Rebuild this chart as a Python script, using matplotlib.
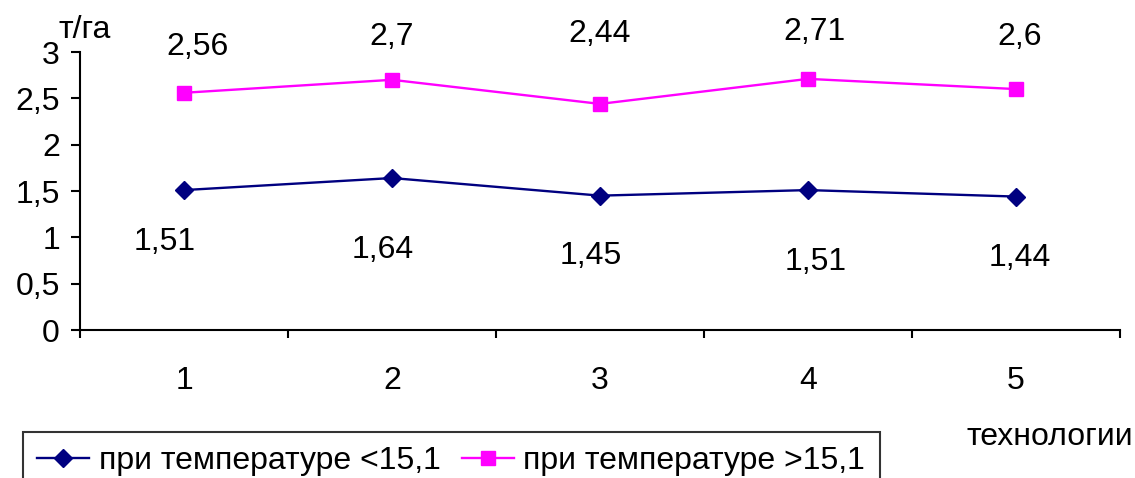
import numpy as np
import matplotlib.pyplot as plt

plt.rcParams['font.family'] = ['Liberation Sans', 'DejaVu Sans']

# урожайность по технологиям, т/га
tech = [1, 2, 3, 4, 5]
low_temp = [1.51, 1.64, 1.45, 1.51, 1.44]
high_temp = [2.56, 2.70, 2.44, 2.71, 2.60]
low_name = 'при температуре <15,1'
high_name = 'при температуре >15,1'

# сдвиги подписей значений (пиксели)
low_off = [(-19, -52), (-9, -72), (-9, -60), (8, -72), (4, -61)]
high_off = [(13, 46), (0, 43), (0, 70), (6, 47), (4, 52)]

fs = 23
fig = plt.figure(figsize=(11.35, 4.78), dpi=100)
ax = fig.add_axes([0.0705, 0.3096, 0.9163, 0.5816])

ax.plot(tech, low_temp, color='#000080', lw=1.7, marker='D', ms=9, label=low_name)
ax.plot(tech, high_temp, color='#FF00FF', lw=1.7, marker='s', ms=9.5, label=high_name)

def fmt(v):
    return ('%g' % v).replace('.', ',')

for x, v, (dx, dy) in zip(tech, low_temp, low_off):
    ax.annotate(fmt(v), (x, v), xytext=(dx, dy), textcoords='offset pixels',
                ha='center', va='center', fontsize=fs)
for x, v, (dx, dy) in zip(tech, high_temp, high_off):
    ax.annotate(fmt(v), (x, v), xytext=(dx, dy), textcoords='offset pixels',
                ha='center', va='center', fontsize=fs, annotation_clip=False)

ax.set_xlim(0.5, 5.5)
ax.set_ylim(0, 3)
ax.set_yticks(np.arange(0, 3.01, 0.5))
ax.set_yticklabels([fmt(v) for v in np.arange(0, 3.01, 0.5)], fontsize=fs)
ax.set_xticks(np.arange(0.5, 5.6, 1))
ax.set_xticklabels([])
ax.set_xticks(tech, minor=True)
ax.set_xticklabels([str(t) for t in tech], minor=True, fontsize=fs)
ax.tick_params(axis='x', which='major', length=6, width=1.5, direction='out')
ax.tick_params(axis='x', which='minor', length=0, pad=26)
ax.tick_params(axis='y', length=6.5, width=1.5, pad=8)

for s in ['top', 'right']:
    ax.spines[s].set_visible(False)
for s in ['left', 'bottom']:
    ax.spines[s].set_linewidth(1.5)

fig.text(85 / 1135, 1 - 30 / 478, 'т/га', ha='center', va='center', fontsize=fs)
fig.text(1050 / 1135, 1 - 437 / 478, 'технологии', ha='center', va='center', fontsize=fs)

leg = fig.legend(loc='upper left', bbox_to_anchor=(23 / 1135, 1 - 432 / 478),
                 ncol=2, fontsize=fs, frameon=True, fancybox=False,
                 handlelength=1.63, handletextpad=0.3, columnspacing=0.65,
                 borderpad=0.45, borderaxespad=0)
leg.get_frame().set_edgecolor('black')
leg.get_frame().set_linewidth(1.5)

fig.savefig('out.png', dpi=100)
